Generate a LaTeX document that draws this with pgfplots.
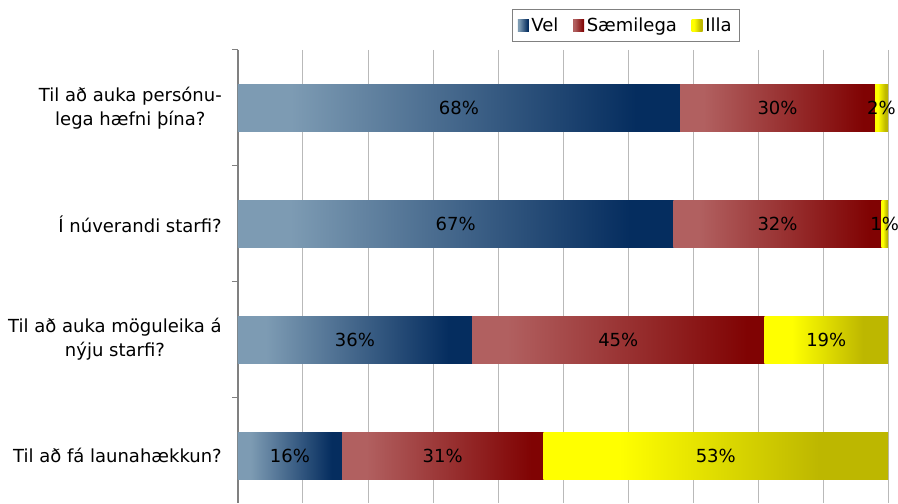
\documentclass[border=0pt]{standalone}
\usepackage{pgfplots}
\usepackage{pgfplotstable}
\pgfplotsset{compat=1.18}
\usepackage{fontspec}
\setmainfont{DejaVu Sans}

\definecolor{velA}{RGB}{125,155,179}
\definecolor{velB}{RGB}{5,45,95}
\definecolor{saeA}{RGB}{177,96,96}
\definecolor{saeB}{RGB}{128,3,3}
\definecolor{illaA}{RGB}{255,255,0}
\definecolor{illaB}{RGB}{189,183,0}
\definecolor{axgray}{RGB}{128,128,128}
\definecolor{gridgray}{RGB}{185,185,185}

% left part plain, right part plain, gradient between
\pgfdeclarehorizontalshading{velshade}{100bp}{color(0bp)=(velA); color(31bp)=(velA); color(70bp)=(velB); color(100bp)=(velB)}
\pgfdeclarehorizontalshading{saeshade}{100bp}{color(0bp)=(saeA); color(31bp)=(saeA); color(72bp)=(saeB); color(100bp)=(saeB)}
\pgfdeclarehorizontalshading{illashade}{100bp}{color(0bp)=(illaA); color(36bp)=(illaA); color(65bp)=(illaB); color(100bp)=(illaB)}

\pgfplotstableread{
y vel sae illa
0 68 30 2
1 67 32 1
2 36 45 19
3 16 31 53
}\datatable

\begin{document}
\fontsize{13.5}{18}\selectfont
\begin{tikzpicture}
\begin{axis}[
  xbar stacked,
  reverse stacked plots=false,
  scale only axis,
  width=487.5pt, height=339.75pt,
  bar width=35.25pt,
  xmin=0, xmax=100,
  y dir=reverse,
  ymin=-0.5, ymax=3.41,
  axis y line*=left,
  axis x line*=bottom,
  x axis line style={draw=none},
  y axis line style={draw=axgray, line width=1.1pt},
  xtick={0,10,...,100},
  xticklabels={},
  xtick style={draw=none},
  xmajorgrids,
  major grid style={gridgray, line width=0.75pt},
  ytick={-0.5,0.5,1.5,2.5},
  yticklabels={},
  ytick style={axgray, line width=0.75pt},
  tick align=outside,
  major tick length=4.5pt,
  extra y ticks={0,1,2,3},
  extra y tick labels={{Til að auka persónu-\\lega hæfni þína?},{Í núverandi starfi?},{Til að auka möguleika á\\nýju starfi?},{Til að fá launahækkun?}},
  extra y tick style={major tick length=0pt, ytick style={draw=none},
    yticklabel style={align=center, inner sep=0pt, xshift=-12pt}},
  % each segment is drawn as its own shaded node (centred on the segment)
  nodes near coords={\makebox[0pt]{\pgfmathprintnumber[assume math mode=true]{\rawx}\%}},
  every node near coord/.append style={anchor=center, black,
    inner sep=0pt, outer sep=0pt, shade,
    minimum height=35.25pt, minimum width={\rawx*4.875pt}},
  legend style={at={(0.597,1)}, anchor=south, yshift=6pt, draw=axgray,
    legend columns=3, inner xsep=4pt, inner ysep=4pt,
    /tikz/every even column/.append style={column sep=9pt}},
  legend image code/.code={\path[#1] (0pt,-4.5pt) rectangle (8.25pt,4.5pt);},
]
\addplot[draw=none, shade, shading=velshade,
  visualization depends on={\thisrow{vel} \as \rawx},
  every node near coord/.append style={shading=velshade}]
  table[x=vel, y=y] {\datatable};
\addplot[draw=none, shade, shading=saeshade,
  visualization depends on={\thisrow{sae} \as \rawx},
  every node near coord/.append style={shading=saeshade}]
  table[x=sae, y=y] {\datatable};
\addplot[draw=none, shade, shading=illashade,
  visualization depends on={\thisrow{illa} \as \rawx},
  every node near coord/.append style={shading=illashade}]
  table[x=illa, y=y] {\datatable};
\legend{Vel, Sæmilega, Illa}
\end{axis}
\pgfresetboundingbox
\path[use as bounding box] ([xshift=-178.5pt]current axis.south west)
  rectangle ([xshift=7.5pt,yshift=37.5pt]current axis.north east);
\end{tikzpicture}
\end{document}
